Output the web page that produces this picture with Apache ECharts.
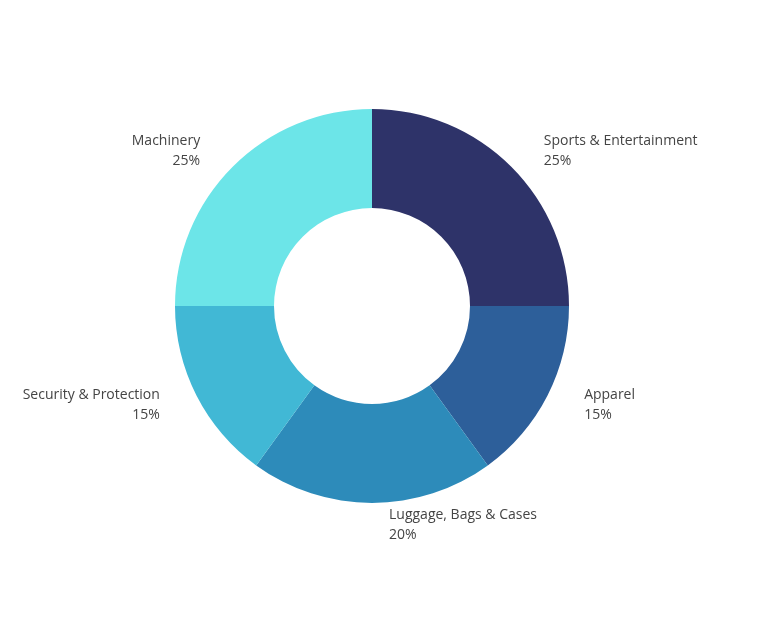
<!DOCTYPE html>
<html>
<head>
<meta charset="utf-8">
<script src="https://cdn.jsdelivr.net/npm/echarts@6/dist/echarts.min.js"></script>
<style>html,body{margin:0;padding:0;background:#fff}#chart{width:768px;height:624px}</style>
</head>
<body>
<div id="chart"></div>
<script>
const categories = ['Sports & Entertainment', 'Apparel', 'Luggage, Bags & Cases', 'Security & Protection', 'Machinery']
const values = [25, 15, 20, 15, 25]
const colors = ['#2e3369', '#2d5f9a', '#2d8bba', '#41b8d5', '#6ce5e8']

const chart = echarts.init(document.getElementById('chart'))
chart.setOption({
  backgroundColor: '#fff',
  animation: false,
  series: [{
    type: 'pie',
    center: [372, 306],
    radius: [98, 197],
    startAngle: 90,
    clockwise: true,
    color: colors,
    label: {
      show: true,
      position: 'outside',
      formatter: '{b}\n{d}%',
      fontFamily: 'Open Sans',
      fontSize: 14,
      lineHeight: 20,
      color: '#444',
      align: 'center'
    },
    labelLine: { show: false, length: 22, length2: 12 },
    data: categories.map((c, i) => ({ name: c, value: values[i] }))
  }]
})
</script>
</body>
</html>
